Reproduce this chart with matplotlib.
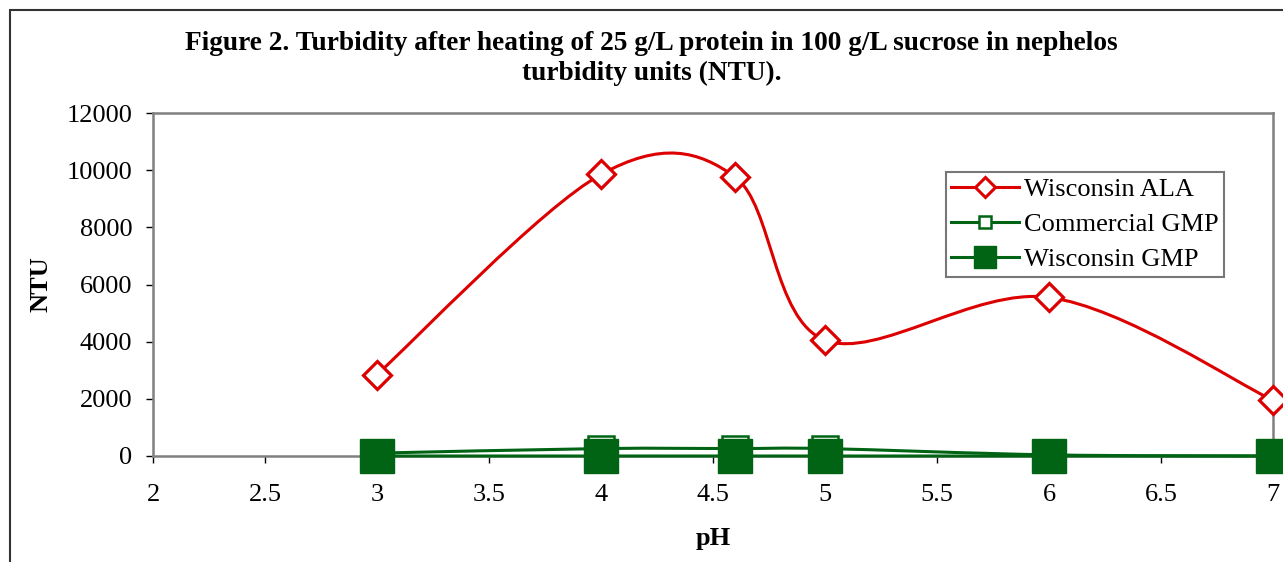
import numpy as np
import matplotlib
matplotlib.use("Agg")
from matplotlib import pyplot as plt
from matplotlib.path import Path
from matplotlib.patches import PathPatch, Rectangle
from matplotlib.lines import Line2D

plt.rcParams['font.family'] = ['Liberation Serif', 'DejaVu Serif']

# data
ph = [3, 4, 4.6, 5, 6, 7]
ala = [2850, 9850, 9750, 4050, 5550, 1950]
comm_gmp = [100, 260, 260, 260, 40, 0]
wisc_gmp = [0, 0, 0, 0, 0, 0]

RED = '#dd0000'
GREEN = '#006414'


def smooth_path(x, y):
    # excel-style smoothed line (catmull-rom bezier)
    pts = np.column_stack([x, y]).astype(float)
    n = len(pts)
    verts = [pts[0]]
    codes = [Path.MOVETO]
    for i in range(n - 1):
        p0 = pts[max(i - 1, 0)]
        p1 = pts[i]
        p2 = pts[i + 1]
        p3 = pts[min(i + 2, n - 1)]
        verts += [p1 + (p2 - p0) / 6, p2 - (p3 - p1) / 6, p2]
        codes += [Path.CURVE4] * 3
    return Path(verts, codes)


fig = plt.figure(figsize=(12.83, 5.62), dpi=100)
ax = fig.add_axes([153/1283, 1-456/562, (1273-153)/1283, (456-113)/562])

# outer chart border
fig.patches.append(Rectangle((10/1283, -0.1), 1.2, 1-10/562+0.1, transform=fig.transFigure,
                             fill=False, edgecolor='#333333', lw=1.5))

for y, c, z in [(ala, RED, 3), (comm_gmp, GREEN, 4), (wisc_gmp, GREEN, 5)]:
    ax.add_patch(PathPatch(smooth_path(ph, y), facecolor='none', edgecolor=c,
                           lw=2.2, zorder=z, clip_on=False))

ax.plot(ph, ala, ls='none', marker='D', ms=14.5, mfc='white', mec=RED, mew=2.3,
        zorder=6, clip_on=False)
ax.plot(ph, comm_gmp, ls='none', marker='s', ms=19, mfc='white', mec=GREEN, mew=1.8,
        zorder=7, clip_on=False)
ax.plot(ph, wisc_gmp, ls='none', marker='s', ms=24, mfc=GREEN, mec=GREEN, mew=1,
        zorder=8, clip_on=False)

ax.set_xlim(2, 7)
ax.set_ylim(0, 12000)
ax.set_xticks(np.arange(2, 7.01, 0.5))
ax.set_xticklabels(['2', '2.5', '3', '3.5', '4', '4.5', '5', '5.5', '6', '6.5', '7'])
ax.set_yticks(np.arange(0, 12001, 2000))
ax.tick_params(axis='both', labelsize=19, length=5, width=1, color='black', direction='out')
ax.tick_params(axis='x', pad=15)
ax.tick_params(axis='y', pad=10)
for s in ax.spines.values():
    s.set_color('#808080')
    s.set_linewidth(1.8)

ax.set_xlabel('pH', fontsize=19, fontweight='bold', labelpad=15)
ax.set_ylabel('NTU', fontsize=19, fontweight='bold', labelpad=10)

fig.text(0.508, 1-44/562, 'Figure 2. Turbidity after heating of 25 g/L protein in 100 g/L sucrose in nephelos',
         ha='center', va='center', fontsize=19.7, fontweight='bold')
fig.text(0.508, 1-73/562, 'turbidity units (NTU).', ha='center', va='center',
         fontsize=19.7, fontweight='bold')

handles = [
    Line2D([], [], color=RED, lw=2.2, marker='D', ms=10, mfc='white', mec=RED, mew=2.2),
    Line2D([], [], color=GREEN, lw=2.2, marker='s', ms=9, mfc='white', mec=GREEN, mew=1.8),
    Line2D([], [], color=GREEN, lw=2.2, marker='s', ms=16.5, mfc=GREEN, mec=GREEN),
]
leg = ax.legend(handles, ['Wisconsin ALA', 'Commercial GMP', 'Wisconsin GMP'],
                loc='upper left', bbox_to_anchor=((946-153)/1120, (456-172)/343),
                fontsize=19, frameon=True, fancybox=False, borderpad=0.2,
                labelspacing=0.45, handlelength=2.55, handletextpad=0.2,
                borderaxespad=0)
leg.get_frame().set_edgecolor('#555555')
leg.get_frame().set_linewidth(1.5)
leg.set_zorder(10)

fig.savefig('out.png', dpi=100)
